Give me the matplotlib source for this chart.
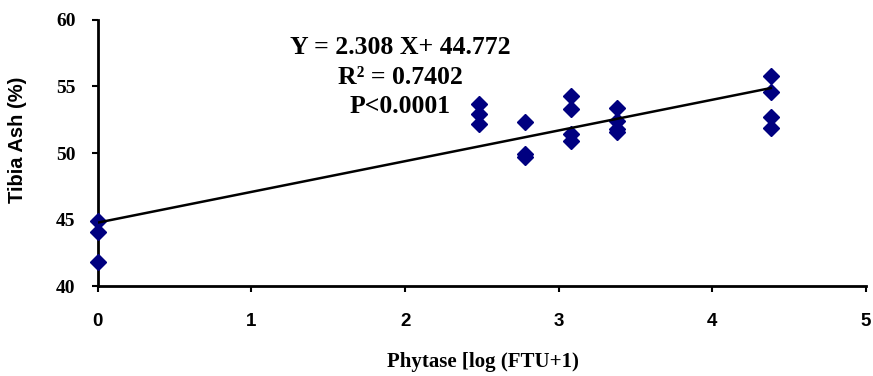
import numpy as np
import matplotlib
matplotlib.use("Agg")
import matplotlib.pyplot as plt

# phytase dose on log(FTU+1) scale, tibia ash %
x_vals = [0, 0, 0,
          2.48, 2.48, 2.48,
          2.78, 2.78, 2.78,
          3.08, 3.08, 3.08, 3.08,
          3.38, 3.38, 3.38, 3.38,
          4.38, 4.38, 4.38, 4.38]
ash = [44.9, 44.1, 41.8,
       53.7, 52.9, 52.2,
       52.3, 49.9, 49.7,
       54.3, 53.3, 51.4, 50.9,
       53.4, 52.4, 51.8, 51.6,
       55.8, 54.6, 52.7, 51.9]

slope = 2.308
intercept = 44.772
fit_x = [0, 4.38]
eq_lines = ["Y = 2.308 X+ 44.772", "R² = 0.7402", "P<0.0001"]

fig = plt.figure(figsize=(8.73, 3.76), dpi=100)
ax = fig.add_axes([0.112, 0.239, 0.880, 0.708])

ax.plot(x_vals, ash, linestyle="none", marker="D", markersize=8.5,
        color="#000080", zorder=3, clip_on=False)
fx = np.array(fit_x)
ax.plot(fx, slope * fx + intercept, color="black", linewidth=1.8, zorder=4)

ax.set_xlim(0, 5)
ax.set_ylim(40, 60)
ax.set_xticks(range(0, 6))
ax.set_yticks(range(40, 61, 5))

for s in ["top", "right"]:
    ax.spines[s].set_visible(False)
for s in ["left", "bottom"]:
    ax.spines[s].set_linewidth(2)

ax.tick_params(direction="out", length=4, width=1.5)
ax.tick_params(axis="x", pad=15, labelsize=13.5)
ax.tick_params(axis="y", pad=12, labelsize=14)
for lab in ax.get_xticklabels():
    lab.set_family("Liberation Sans")
    lab.set_fontweight("bold")
for lab in ax.get_yticklabels():
    lab.set_family("Liberation Serif")
    lab.set_fontweight("bold")

ax.set_xlabel("Phytase [log (FTU+1)", family="Liberation Serif",
              fontweight="bold", fontsize=15)
ax.xaxis.label.set_va("center")
ax.xaxis.set_label_coords(0.502, -0.286)
ax.set_ylabel("Tibia Ash (%)", family="Liberation Sans",
              fontweight="bold", fontsize=14.5)
ax.yaxis.label.set_va("center")
ax.yaxis.set_label_coords(-0.104, 0.549)

for txt, yy in zip(eq_lines, [57.9, 55.7, 53.5]):
    ax.text(1.97, yy, txt, ha="center", va="center",
            family="Liberation Serif", fontweight="bold", fontsize=18.5)

fig.savefig("out.png")
